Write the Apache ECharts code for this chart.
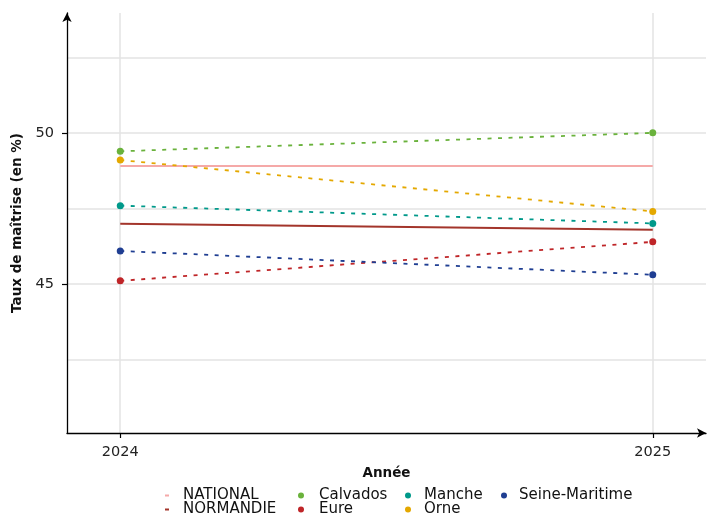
<!DOCTYPE html>
<html><head><meta charset="utf-8">
<script src="https://cdn.jsdelivr.net/npm/echarts@6/dist/echarts.min.js"></script>
<style>html,body{margin:0;padding:0;background:#fff}#c{width:724px;height:515px}</style>
</head><body><div id="c"></div>
<script>
const years = [2024, 2025];
const national = [48.90, 48.90];
const normandie = [46.99, 46.79];
const calvados = [49.39, 50.00];
const eure = [45.10, 46.39];
const manche = [47.59, 47.00];
const orne = [49.10, 47.40];
const seineMaritime = [46.09, 45.30];
const yTickLabels = [45, 50];
const yGridValues = [42.5, 45, 47.5, 50, 52.5];

const FONT = 'DejaVu Sans';
const pair = arr => years.map((y, i) => [y, arr[i]]);

function dept(name, color, vals) {
  return {
    name, type: 'line', data: pair(vals), symbol: 'circle', symbolSize: 7,
    itemStyle: { color },
    lineStyle: { color, width: 1.8, type: [4, 6.5] },
    z: 6
  };
}

const legendText = { fontSize: 15, color: '#111', fontFamily: FONT };
function leg(name, left, top, kind, padLeft) {
  const isLine = kind === 'line';
  return {
    left, top, orient: 'horizontal', padding: 0,
    itemWidth: isLine ? 4 : 6, itemHeight: isLine ? 2 : 6,
    icon: isLine ? 'rect' : 'circle',
    textStyle: Object.assign({ padding: [0, 0, 0, padLeft] }, legendText),
    data: [name], selectedMode: false
  };
}

const chart = echarts.init(document.getElementById('c'));
chart.setOption({
  animation: false,
  textStyle: { fontFamily: FONT },
  grid: { left: 67, right: 18, top: 13, bottom: 82, outerBoundsMode: 'none', containLabel: false },
  xAxis: {
    type: 'value', min: 2023.9, max: 2025.1, z: 3,
    name: 'Année', nameLocation: 'middle', nameGap: 33,
    nameTextStyle: { fontWeight: 'bold', fontSize: 13.5, color: '#111', fontFamily: FONT },
    axisLine: { show: true, lineStyle: { color: '#000', width: 1.3 }, symbol: ['none', 'arrow'], symbolSize: [7, 9], symbolOffset: [0, 0] },
    axisTick: { show: true, customValues: years, length: 5, lineStyle: { color: '#000', width: 1.2 } },
    axisLabel: { customValues: years, fontSize: 14.5, color: '#222', margin: 12, fontFamily: FONT, formatter: v => String(v) },
    splitLine: { show: true, lineStyle: { color: '#e3e3e3', width: 1.5 } }
  },
  yAxis: {
    type: 'value', min: 40.06, max: 53.97, z: 3,
    name: 'Taux de maîtrise (en %)', nameLocation: 'middle', nameGap: 40,
    nameTextStyle: { fontWeight: 'bold', fontSize: 13.5, color: '#111', fontFamily: FONT },
    axisLine: { show: true, lineStyle: { color: '#000', width: 1.3 }, symbol: ['none', 'arrow'], symbolSize: [7, 9], symbolOffset: [0, 0] },
    axisTick: { show: true, customValues: yTickLabels, length: 5, lineStyle: { color: '#000', width: 1.2 } },
    axisLabel: { customValues: yTickLabels, fontSize: 14.5, color: '#222', margin: 13, fontFamily: FONT },
    splitLine: { show: false }
  },
  legend: [
    leg('NATIONAL', 165, 488, 'line', 9),
    leg('NORMANDIE', 165, 502, 'line', 9),
    leg('Calvados', 298, 488, 'circle', 10),
    leg('Eure', 298, 502, 'circle', 10),
    leg('Manche', 405, 488, 'circle', 8),
    leg('Orne', 405, 502, 'circle', 8),
    leg('Seine-Maritime', 501, 488, 'circle', 7)
  ],
  series: [
    { name: 'grid', type: 'line', data: [], silent: true, z: 0,
      markLine: { silent: true, symbol: 'none', label: { show: false }, z: 0,
        lineStyle: { color: '#e3e3e3', width: 1.5, type: 'solid' },
        data: yGridValues.map(v => ({ yAxis: v })) } },
    { name: 'NATIONAL', type: 'line', data: pair(national), symbol: 'none', showSymbol: false,
      itemStyle: { color: '#f5a9a8' }, lineStyle: { color: '#f5a9a8', width: 2 }, z: 4 },
    { name: 'NORMANDIE', type: 'line', data: pair(normandie), symbol: 'none', showSymbol: false,
      itemStyle: { color: '#a3352b' }, lineStyle: { color: '#a3352b', width: 2 }, z: 4 },
    dept('Calvados', '#6ab23c', calvados),
    dept('Eure', '#bf2528', eure),
    dept('Manche', '#00998a', manche),
    dept('Orne', '#e4a800', orne),
    dept('Seine-Maritime', '#1f3e92', seineMaritime)
  ]
});
</script></body></html>
